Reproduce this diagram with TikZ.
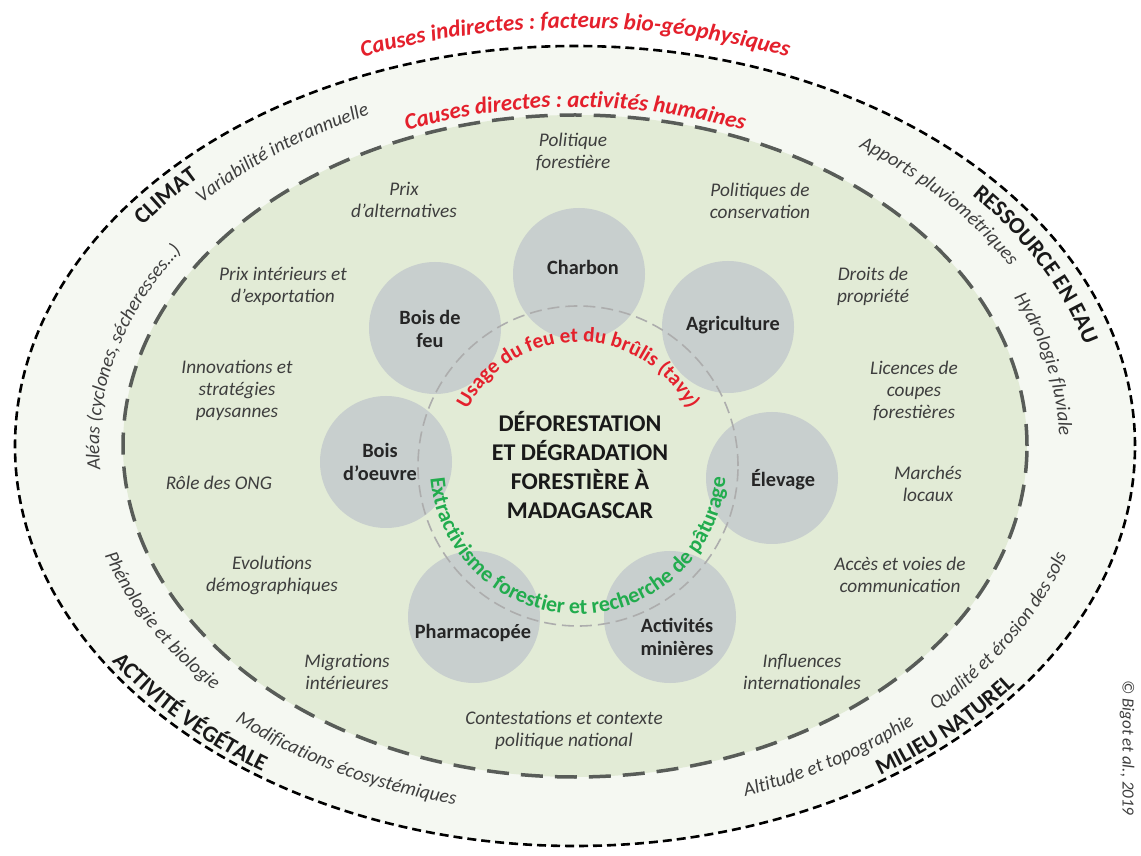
\documentclass[tikz,border=0pt]{standalone}
\usepackage{fontspec}
\setmainfont{Carlito}
\usepackage{xcolor}
\usetikzlibrary{decorations.text}

\definecolor{bandfill}{RGB}{245,248,242}
\definecolor{zonefill}{RGB}{226,235,214}
\definecolor{discfill}{RGB}{200,207,206}
\definecolor{causered}{RGB}{228,32,44}
\definecolor{pathgreen}{RGB}{34,172,78}
\definecolor{zoneline}{RGB}{88,92,88}
\definecolor{textgray}{RGB}{62,62,62}

\newcommand{\fs}[2]{\fontsize{#1}{#2}\selectfont}
\newcommand{\capsfont}{\fs{23}{27}\bfseries\color{black!90}}
\newcommand{\bandfont}{\fs{19.5}{23}\itshape\color{textgray}}
\newcommand{\bandout}[4]{%
	\pgfmathsetmacro\brx{452+108*#2}%
	\pgfmathsetmacro\bry{331+69*#2}%
	\path[shift={(575,409)},decorate,decoration={text along path,text align=center,text={|#3|#4}}]
		(#1+35:\brx pt and \bry pt) arc[start angle=#1+35,end angle=#1-35,x radius=\brx pt,y radius=\bry pt];}
\newcommand{\bandin}[4]{%
	\pgfmathsetmacro\brx{452+108*#2}%
	\pgfmathsetmacro\bry{331+69*#2}%
	\path[shift={(575,409)},decorate,decoration={text along path,text align=center,text={|#3|#4}}]
		(#1-35:\brx pt and \bry pt) arc[start angle=#1-35,end angle=#1+35,x radius=\brx pt,y radius=\bry pt];}

\begin{document}
\begin{tikzpicture}
	[x=1pt,y=1pt,
	band/.style={draw=black,fill=bandfill,line width=2.6pt,dash pattern=on 9pt off 5pt},
	zone/.style={draw=zoneline,fill=zonefill,line width=3.5pt,dash pattern=on 22pt off 12pt},
	core/.style={draw=black!32,line width=1.6pt,dash pattern=on 12pt off 6pt},
	activity/.style={circle,fill=discfill,minimum size=132pt,inner sep=0pt},
	disctext/.style={font=\fs{20.3}{23}\bfseries,text=black!85,align=center,inner sep=0pt},
	factor/.style={font=\fs{19.3}{22}\itshape,text=textgray,align=center,inner sep=0pt}]
	\useasboundingbox (0,0) rectangle (1141,855);
	\fill[white] (0,0) rectangle (1141,855);
	\draw[band] (575,409) ellipse[x radius=560pt,y radius=400pt];
	\draw[zone] (575,409) ellipse[x radius=452pt,y radius=331pt];
	
	\foreach \nm/\x/\y/\txt in {polfor/573/703/{Politique\\forestière},
		prixalt/404/655/{Prix\\d’alternatives},
		polcons/760/654/{Politiques de\\conservation},
		prixint/283/569/{Prix intérieurs et\\d’exportation},
		droits/873/569/{Droits de\\propriété},
		innov/237/465/{Innovations et\\stratégies\\paysannes},
		licences/914/464/{Licences de\\coupes\\forestières},
		ong/219/372/{Rôle des ONG},
		marches/928/371/{Marchés\\locaux},
		demo/272/280/{Evolutions\\démographiques},
		acces/900/280/{Accès et voies de\\communication},
		migr/347/183/{Migrations\\intérieures},
		influ/802/183/{Influences\\internationales},
		contest/564/125/{Contestations et contexte\\politique national}}
	\node[factor] (\nm) at (\x,\y) {\txt};
	
	\foreach \nm/\x/\y/\tx/\ty/\txt in {charbon/579/581/583/588/Charbon,
		agri/728/528/733/530/Agriculture,
		elevage/772/377/783/375/Élevage,
		mines/670/238/677/218/{Activités\\minières},
		pharma/474/238/473/222/Pharmacopée,
		oeuvre/386/393/380/393/{Bois\\d’oeuvre},
		feu/435/527/430/526/{Bois de\\feu}}
	{\node[activity] (\nm) at (\x,\y) {};
	\node[disctext] (\nm t) at (\tx,\ty) {\txt};}
	
	\draw[core] (578,389) circle[radius=160pt];
	\path[shift={(578,389)},decorate,decoration={text along path,text align=center,text={|\fs{21}{25}\bfseries\color{causered}|Usage du feu et du brûlis (tavy)}}]
		(178:124pt) arc[start angle=178,end angle=2,radius=124pt];
	\path[shift={(578,389)},decorate,decoration={text along path,text align=center,text={|\fs{22}{26}\bfseries\color{pathgreen}|Extractivisme forestier et recherche de pâturage}}]
		(178:148pt) arc[start angle=178,end angle=362,radius=148pt];
	\node[font=\fs{24}{29}\bfseries,text=black!90,align=center] (centre) at (580,390) {DÉFORESTATION\\ET DÉGRADATION\\FORESTIÈRE À\\MADAGASCAR};
	
	\path[shift={(575,409)},decorate,decoration={text along path,text align=center,text={|\fs{23}{27}\bfseries\itshape\color{causered}|Causes indirectes : facteurs bio-géophysiques}}]
		(130:578pt and 418pt) arc[start angle=130,end angle=50,x radius=578pt,y radius=418pt];
	\path[shift={(575,409)},decorate,decoration={text along path,text align=center,text={|\fs{23}{27}\bfseries\itshape\color{causered}|Causes directes : activités humaines}}]
		(130:462pt and 339pt) arc[start angle=130,end angle=50,x radius=462pt,y radius=339pt];
	
	\bandout{143}{0.72}{\capsfont}{CLIMAT}
	\bandout{128.5}{0.46}{\bandfont}{Variabilité interannuelle}
	\bandout{26}{0.71}{\capsfont}{RESSOURCE EN EAU}
	\bandout{40}{0.45}{\bandfont}{Apports pluviométriques}
	\bandout{12}{0.3}{\bandfont}{Hydrologie fluviale}
	\bandout{166}{0.22}{\bandfont}{Aléas (cyclones, sécheresses…)}
	\bandin{208}{0.39}{\bandfont}{Phénologie et biologie}
	\bandin{221.5}{0.93}{\capsfont}{ACTIVITÉ VÉGÉTALE}
	\bandin{240.5}{0.55}{\bandfont}{Modifications écosystémiques}
	\bandin{302.5}{0.58}{\bandfont}{Altitude et topographie}
	\bandin{316}{0.93}{\capsfont}{MILIEU NATUREL}
	\bandin{331}{0.58}{\bandfont}{Qualité et érosion des sols}
	
	\node[font=\fs{17}{20}\itshape,text=textgray,rotate=-90] (credit) at (1127,107) {© Bigot et al., 2019};
\end{tikzpicture}
\end{document}
